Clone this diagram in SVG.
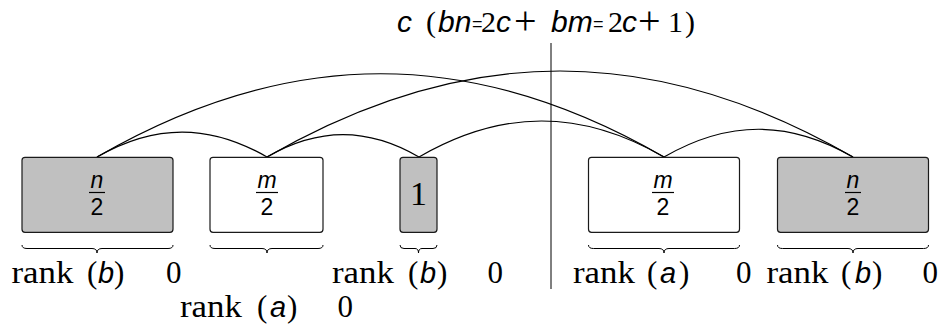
<svg xmlns="http://www.w3.org/2000/svg" width="943" height="326" viewBox="0 0 943 326">
<style>
.box{stroke:#1a1a1a;stroke-width:1.2}
.g{fill:#c0c0c0}
.w{fill:#ffffff}
.arc{fill:none;stroke:#000;stroke-width:1.2}
.br{fill:none;stroke:#000;stroke-width:1}
.ser{font-family:"Liberation Serif",serif;fill:#000}
.si{font-family:"Liberation Sans",sans-serif;font-style:italic;fill:#000}
.ss{font-family:"Liberation Sans",sans-serif;fill:#000}
.lab{font-size:31px}
.lv{font-size:29px}
.fr{font-size:23px}
.bar{stroke:#000;stroke-width:1.2}
</style>
<rect width="943" height="326" fill="#fff"/>
<g id="title">
<text y="32"><tspan class="si" font-size="30" x="397">c</tspan><tspan class="ser" font-size="30" x="426">(</tspan><tspan class="si" font-size="30" x="438">bn</tspan><tspan class="ss" font-size="18" x="472" dy="-2">=</tspan><tspan class="ser" font-size="30" x="481" dy="2">2</tspan><tspan class="si" font-size="30" x="496">c</tspan><tspan class="ser" font-size="40" x="514" dy="2">+</tspan><tspan class="si" font-size="30" x="551" dy="-2">bm</tspan><tspan class="ss" font-size="18" x="593" dy="-2">=</tspan><tspan class="ser" font-size="30" x="608" dy="2">2</tspan><tspan class="si" font-size="30" x="622">c</tspan><tspan class="ser" font-size="40" x="638" dy="2">+</tspan><tspan class="ser" font-size="30" x="668" dy="-2">1</tspan><tspan class="ser" font-size="30" x="685">)</tspan></text>
</g>
<g id="divider"><line x1="551" y1="43" x2="551" y2="289" stroke="#000" stroke-width="1"/></g>
<g id="connectors">
<path class="arc" d="M97,157 C154.6,123.7 209.4,123.7 267,157"/>
<path class="arc" d="M97,157 C289.2,46 471.8,46 664,157"/>
<path class="arc" d="M267,157 C318.5,127.2 367.5,127.2 419,157"/>
<path class="arc" d="M267,157 C465.7,42.3 654.3,42.3 853,157"/>
<path class="arc" d="M419,157 C502.1,109 580.9,109 664,157"/>
<path class="arc" d="M664,157 C728.1,120 788.9,120 853,157"/>
</g>
<g id="box1">
<rect class="box g" x="22" y="157.3" width="151" height="75" rx="3"/>
<text class="si fr" x="97" y="188" text-anchor="middle">n</text>
<line class="bar" x1="89" y1="192.5" x2="105" y2="192.5"/>
<text class="ss fr" x="97" y="215" text-anchor="middle">2</text>
</g>
<g id="box2">
<rect class="box w" x="210" y="157.3" width="113" height="75" rx="3"/>
<text class="si fr" x="267" y="188" text-anchor="middle">m</text>
<line class="bar" x1="256" y1="192.5" x2="278" y2="192.5"/>
<text class="ss fr" x="267" y="215" text-anchor="middle">2</text>
</g>
<g id="box3">
<rect class="box g" x="400" y="157.3" width="37" height="75" rx="3"/>
<text class="ser" font-size="34" x="418.5" y="205" text-anchor="middle">1</text>
</g>
<g id="box4">
<rect class="box w" x="588.5" y="157.3" width="151" height="75" rx="3"/>
<text class="si fr" x="663" y="188" text-anchor="middle">m</text>
<line class="bar" x1="652" y1="192.5" x2="674" y2="192.5"/>
<text class="ss fr" x="663" y="215" text-anchor="middle">2</text>
</g>
<g id="box5">
<rect class="box g" x="777.5" y="157.3" width="151" height="75" rx="3"/>
<text class="si fr" x="853" y="188" text-anchor="middle">n</text>
<line class="bar" x1="845" y1="192.5" x2="861" y2="192.5"/>
<text class="ss fr" x="853" y="215" text-anchor="middle">2</text>
</g>
<g id="braces">
<path class="br" d="M22,245 Q22,248.5 27,248.5 L92,248.5 Q97,248.5 97,253 Q97,248.5 102,248.5 L168,248.5 Q173,248.5 173,245"/>
<path class="br" d="M210,245 Q210,248.5 215,248.5 L262,248.5 Q267,248.5 267,253 Q267,248.5 272,248.5 L318,248.5 Q323,248.5 323,245"/>
<path class="br" d="M400,245 Q400,248.5 404,248.5 L415,248.5 Q418.5,248.5 418.5,253 Q418.5,248.5 422,248.5 L433,248.5 Q437,248.5 437,245"/>
<path class="br" d="M588.5,245 Q588.5,248.5 593.5,248.5 L659,248.5 Q664,248.5 664,253 Q664,248.5 669,248.5 L734.5,248.5 Q739.5,248.5 739.5,245"/>
<path class="br" d="M777.5,245 Q777.5,248.5 782.5,248.5 L848,248.5 Q853,248.5 853,253 Q853,248.5 858,248.5 L923.5,248.5 Q928.5,248.5 928.5,245"/>
</g>
<g id="labels">
<text class="lab" y="283"><tspan class="ser" x="11.5" textLength="62" lengthAdjust="spacingAndGlyphs">rank</tspan><tspan class="ser" x="87">(</tspan><tspan class="si lv" x="98">b</tspan><tspan class="ser" x="114">)</tspan><tspan class="ser" x="166">0</tspan></text>
<text class="lab" y="317"><tspan class="ser" x="180" textLength="62" lengthAdjust="spacingAndGlyphs">rank</tspan><tspan class="ser" x="257">(</tspan><tspan class="si lv" x="270">a</tspan><tspan class="ser" x="287">)</tspan><tspan class="ser" x="337.5">0</tspan></text>
<text class="lab" y="283"><tspan class="ser" x="332" textLength="62" lengthAdjust="spacingAndGlyphs">rank</tspan><tspan class="ser" x="408">(</tspan><tspan class="si lv" x="420">b</tspan><tspan class="ser" x="437">)</tspan><tspan class="ser" x="487.5">0</tspan></text>
<text class="lab" y="283"><tspan class="ser" x="573" textLength="62" lengthAdjust="spacingAndGlyphs">rank</tspan><tspan class="ser" x="647">(</tspan><tspan class="si lv" x="660">a</tspan><tspan class="ser" x="679">)</tspan><tspan class="ser" x="736">0</tspan></text>
<text class="lab" y="283"><tspan class="ser" x="766.5" textLength="62" lengthAdjust="spacingAndGlyphs">rank</tspan><tspan class="ser" x="841">(</tspan><tspan class="si lv" x="855">b</tspan><tspan class="ser" x="872">)</tspan><tspan class="ser" x="922.5">0</tspan></text>
</g>
</svg>
